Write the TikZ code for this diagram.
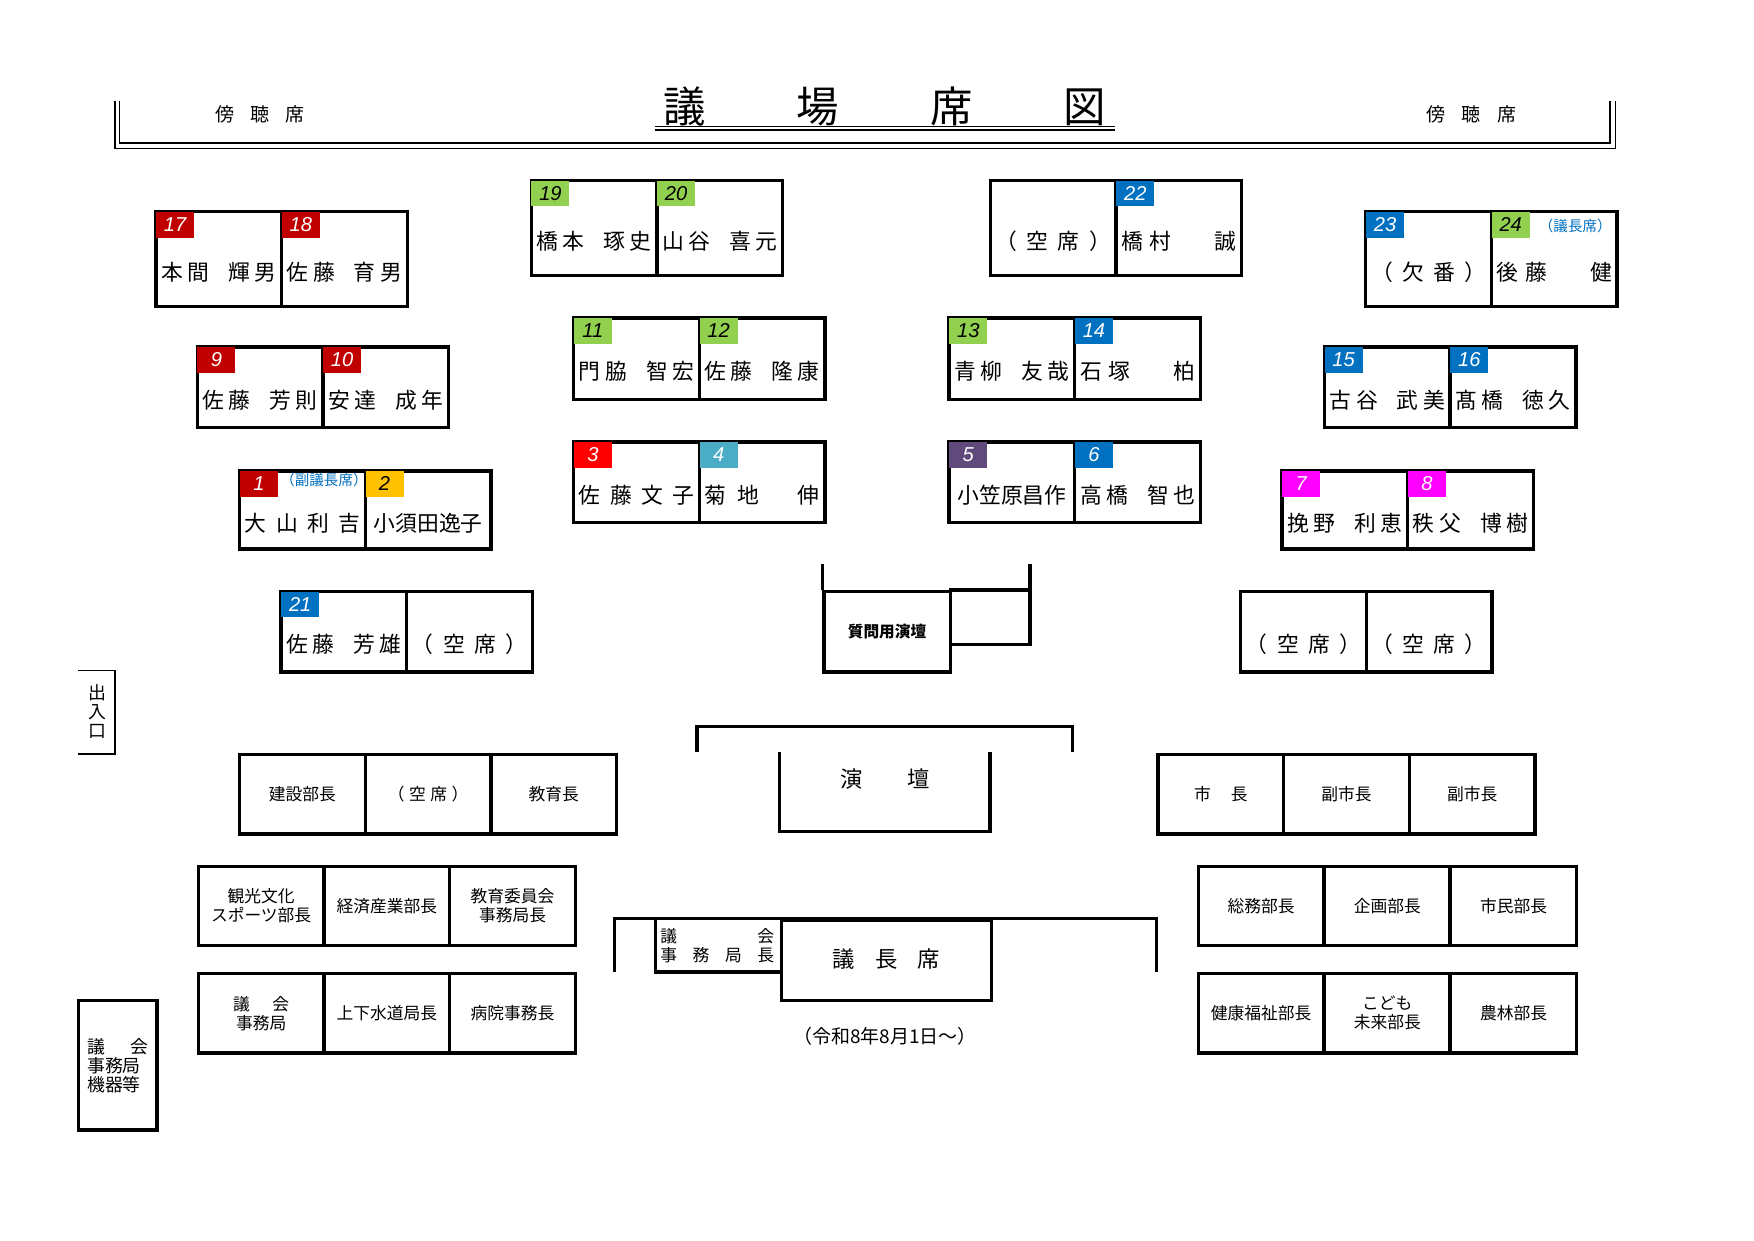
\documentclass[tikz,border=0pt]{standalone}
\usepackage{fontspec}
\setmainfont{Noto Sans CJK JP}
\newfontfamily\numf{Liberation Sans}
\usetikzlibrary{calc}
\definecolor{cDR}{HTML}{C00000}
\definecolor{cR}{HTML}{FF0000}
\definecolor{cG}{HTML}{92D050}
\definecolor{cB}{HTML}{0070C0}
\definecolor{cY}{HTML}{FFC000}
\definecolor{cT}{HTML}{4BACC6}
\definecolor{cP}{HTML}{604A7B}
\definecolor{cM}{HTML}{FF00FF}
\tikzset{
 cell/.style={draw, line width=3pt, minimum width=112.5pt, inner sep=0pt, anchor=north west},
 badge/.style={anchor=north west, minimum width=34pt, minimum height=23pt, inner sep=0pt, font=\numf\itshape\fontsize{18}{18}\selectfont},
 bDR/.style={fill=cDR,text=white}, bR/.style={fill=cR,text=white}, bG/.style={fill=cG,text=black},
 bB/.style={fill=cB,text=white}, bY/.style={fill=cY,text=black}, bT/.style={fill=cT,text=white},
 bP/.style={fill=cP,text=white}, bM/.style={fill=cM,text=white},
 nm/.style={inner sep=0pt, font=\fontsize{19.5}{22}\selectfont},
 st/.style={inner sep=0pt, align=center, font=\fontsize{15}{17}\selectfont},
 note/.style={inner sep=0pt, text=cB, font=\fontsize{13}{14}\selectfont},
 wall/.style={line width=3pt},
 thin/.style={line width=1.2pt}
}
\newcommand\jt[1]{\makebox[103pt][s]{#1}}
\newcommand\pn[4]{\jt{#1\hspace{4pt}#2\hfill #3\hspace{4pt}#4}}
% #1 name, #2 x, #3 y, #4 height, #5 badge style, #6 number, #7 text
\newcommand\seat[7]{%
 \node[cell, minimum height=#4pt] (#1) at (#2,#3) {};
 \node[badge,#5] (#1b) at ([shift={(1.5pt,-1.5pt)}]#1.north west) {#6};
 \node[nm] (#1n) at ($(#1.north)+(0,{(#4+24)/2+1})$) {#7};}
\newcommand\seatnb[5]{%
 \node[cell, minimum height=#4pt] (#1) at (#2,#3) {};
 \node[nm] (#1n) at ($(#1.north)+(0,{(#4+24)/2+1})$) {#5};}
\newcommand\stf[4]{%
 \node[cell, minimum height=71pt] (#1) at (#2,#3) {};
 \node[st] (#1t) at (#1.center) {#4};}
\begin{document}
\begin{tikzpicture}[x=1pt,y=-1pt]
\useasboundingbox (0,0) rectangle (1570,1110);
% header
\draw[thin] (103,90) -- (103,133) -- (1446,133) -- (1446,90);
\draw[thin] (107,90) -- (107,128) -- (1441,128) -- (1441,90);
\node[inner sep=0pt,font=\fontsize{17}{18}\selectfont] (gl) at (233,102) {\makebox[80pt][s]{傍\hfill 聴\hfill 席}};
\node[inner sep=0pt,font=\fontsize{17}{18}\selectfont] (gr) at (1317,102) {\makebox[80pt][s]{傍\hfill 聴\hfill 席}};
\node[inner sep=0pt,font=\fontsize{38}{40}\selectfont] (title) at (792,95) {\makebox[396pt][s]{議\hfill 場\hfill 席\hfill 図}};
\draw[thin] (586,113) -- (998,113);
\draw[thin] (586,116.5) -- (998,116.5);
% seats
\seat{s17}{138}{188}{85}{bDR}{17}{\pn{本}{間}{輝}{男}}
\seat{s18}{250.5}{188}{85}{bDR}{18}{\pn{佐}{藤}{育}{男}}
\seat{s19}{474}{160}{85}{bG}{19}{\pn{橋}{本}{琢}{史}}
\seat{s20}{586.5}{160}{85}{bG}{20}{\pn{山}{谷}{喜}{元}}
\seatnb{s22a}{885}{160}{85}{\jt{（\hfill 空\hfill 席\hfill ）}}
\seat{s22}{997.5}{160}{85}{bB}{22}{\jt{橋\hspace{6pt}村\hfill 誠}}
\seat{s23}{1221}{188}{85}{bB}{23}{\jt{（\hfill 欠\hfill 番\hfill ）}}
\seat{s24}{1333.5}{188}{85}{bG}{24}{\jt{後\hspace{6pt}藤\hfill 健}}
\node[note] (n24) at (1410,202) {（議長席）};
\seat{s9}{175}{309}{72}{bDR}{9}{\pn{佐}{藤}{芳}{則}}
\seat{s10}{287.5}{309}{72}{bDR}{10}{\pn{安}{達}{成}{年}}
\seat{s11}{512}{283}{73}{bG}{11}{\pn{門}{脇}{智}{宏}}
\seat{s12}{624.5}{283}{73}{bG}{12}{\pn{佐}{藤}{隆}{康}}
\seat{s13}{848}{283}{73}{bG}{13}{\pn{青}{柳}{友}{哉}}
\seat{s14}{960.5}{283}{73}{bB}{14}{\jt{石\hspace{6pt}塚\hfill 柏}}
\seat{s15}{1184}{309}{72}{bB}{15}{\pn{古}{谷}{武}{美}}
\seat{s16}{1296.5}{309}{72}{bB}{16}{\pn{髙}{橋}{徳}{久}}
\seat{s1}{213}{420}{70}{bDR}{1}{\jt{大\hfill 山\hfill 利\hfill 吉}}
\node[note] (n1) at (290,430) {（副議長席）};
\seat{s2}{325.5}{420}{70}{bY}{2}{小須田逸子}
\seat{s3}{512}{394}{72}{bR}{3}{\jt{佐\hfill 藤\hfill 文\hfill 子}}
\seat{s4}{624.5}{394}{72}{bT}{4}{\jt{菊\hspace{10pt}地\hfill 伸}}
\seat{s5}{848}{394}{72}{bP}{5}{小笠原昌作}
\seat{s6}{960.5}{394}{72}{bB}{6}{\pn{高}{橋}{智}{也}}
\seat{s7}{1146}{420}{70}{bM}{7}{\pn{挽}{野}{利}{恵}}
\seat{s8}{1258.5}{420}{70}{bM}{8}{\pn{秩}{父}{博}{樹}}
\seat{s21}{250}{528}{72}{bB}{21}{\pn{佐}{藤}{芳}{雄}}
\seatnb{s21b}{362.5}{528}{72}{\jt{（\hfill 空\hfill 席\hfill ）}}
\seatnb{sk1}{1109}{528}{72}{\jt{（\hfill 空\hfill 席\hfill ）}}
\seatnb{sk2}{1221.5}{528}{72}{\jt{（\hfill 空\hfill 席\hfill ）}}
% question podium
\node[cell, minimum width=113pt, minimum height=72pt] (qp) at (736,528) {};
\node[inner sep=0pt,font=\bfseries\fontsize{14}{16}\selectfont] (qpt) at (qp.center) {質問用演壇};
\draw[wall] (736,505) -- (736,528);
\draw[wall] (849,528) -- (922,528);
\draw[wall] (922,505) -- (922,577) -- (849,577);
% entrance
\draw[thin] (70,600) -- (103,600) -- (103,675) -- (70,675);
\node[st,font=\fontsize{16}{17}\selectfont] (ent) at (87,637) {出\\入\\口};
% podium
\draw[wall] (624,673) -- (624,650) -- (960,650) -- (960,673);
\draw[wall] (698,673) -- (698,744) -- (886,744) -- (886,673);
\coordinate (pod) at (792,697);
\node[inner sep=0pt,font=\fontsize{20}{22}\selectfont] (podt) at (pod) {\makebox[80pt][s]{演\hfill 壇}};
% staff left
\stf{l11}{213}{674}{建設部長}
\stf{l12}{325.5}{674}{（\hspace{4pt}空\hspace{4pt}席\hspace{4pt}）}
\stf{l13}{438}{674}{教育長}
\stf{l21}{176}{774}{観光文化\\スポーツ部長}
\stf{l22}{288.5}{774}{経済産業部長}
\stf{l23}{401}{774}{教育委員会\\事務局長}
\stf{l31}{176}{870}{\makebox[50pt][s]{議\hfill 会}\\事務局}
\stf{l32}{288.5}{870}{上下水道局長}
\stf{l33}{401}{870}{病院事務長}
% staff right
\stf{r11}{1035}{674}{\makebox[48pt][s]{市\hfill 長}}
\stf{r12}{1147.5}{674}{副市長}
\stf{r13}{1260}{674}{副市長}
\stf{r21}{1071}{774}{総務部長}
\stf{r22}{1184}{774}{企画部長}
\stf{r23}{1297}{774}{市民部長}
\stf{r31}{1071}{870}{健康福祉部長}
\stf{r32}{1184}{870}{こども\\未来部長}
\stf{r33}{1297}{870}{農林部長}
% chair
\draw[wall] (550,870) -- (550,822) -- (1035,822) -- (1035,870);
\node[cell, minimum width=188pt, minimum height=72pt] (chair) at (698,822) {};
\node[inner sep=0pt,font=\fontsize{20}{22}\selectfont] (chairt) at ($(chair.center)+(0,-1)$) {\makebox[96pt][s]{議\hfill 長\hfill 席}};
\draw[wall] (587,822) -- (587,870) -- (698,870);
\node[st, align=left] (sec) at (642,846) {\makebox[102pt][s]{議\hfill 会}\\\makebox[102pt][s]{事\hfill 務\hfill 局\hfill 長}};
\node[inner sep=0pt,font=\fontsize{17}{18}\selectfont] (date) at (792,928) {（令和8年8月1日～）};
% equipment
\node[cell, minimum width=70pt, minimum height=116pt] (eq) at (69,894) {};
\node[st, align=left, font=\fontsize{16}{17}\selectfont] (eqt) at (eq.center) {\makebox[55pt][s]{議\hfill 会}\\事務局\\機器等};
\end{tikzpicture}
\end{document}
